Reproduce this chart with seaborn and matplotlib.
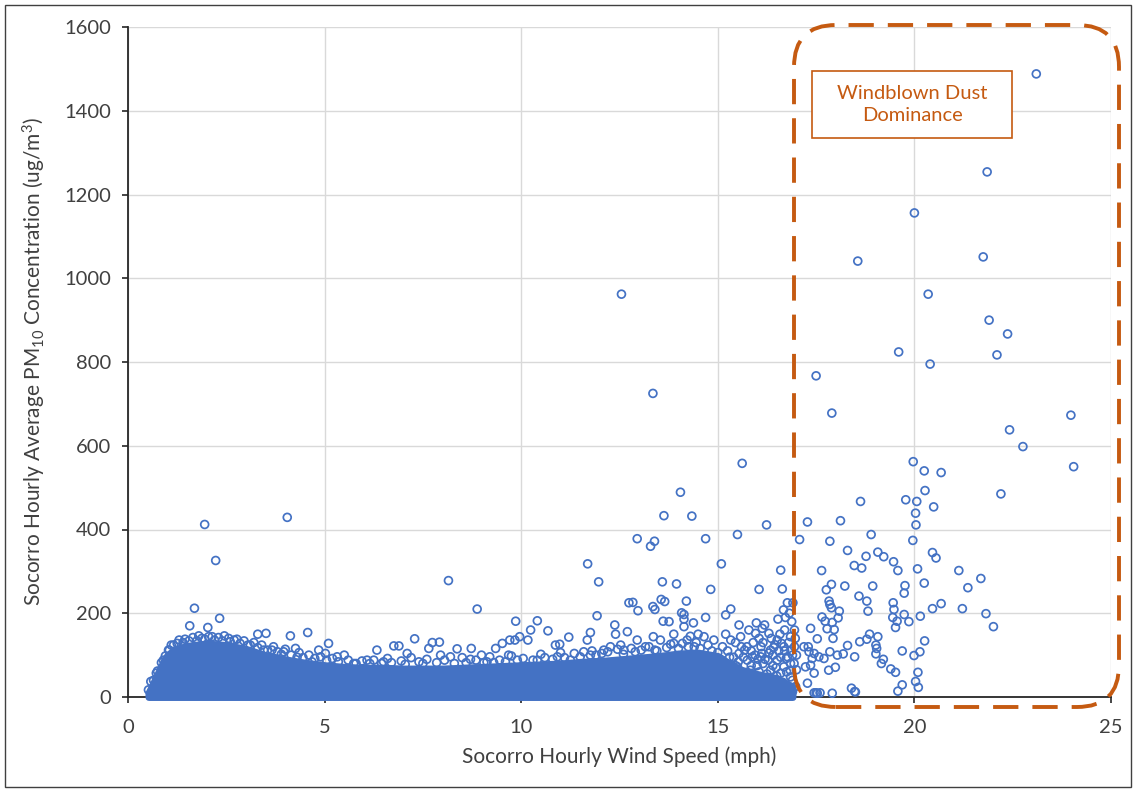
import matplotlib
matplotlib.use("Agg")
import matplotlib.pyplot as plt
import seaborn as sns
import pandas as pd
from matplotlib.patches import FancyBboxPatch, Rectangle
from matplotlib.transforms import IdentityTransform

# ---------------- data ----------------
# Solid core of thousands of overlapping hourly observations: upper envelope
band_speed = [0.52, 0.6, 0.7, 0.8, 0.9, 1.0, 1.2, 1.5, 2.0, 2.5, 3.0, 3.5, 4.0, 4.5,
              5.0, 5.5, 6.0, 6.5, 7.0, 7.5, 8.0, 8.5, 9.0, 9.5, 10.0, 10.5, 11.0,
              11.5, 12.0, 12.5, 13.0, 13.5, 14.0, 14.5, 15.0, 15.3, 15.6, 16.0, 16.5,
              16.9]
band_top = [10, 25, 45, 65, 85, 100, 115, 122, 128, 124, 115, 100, 90, 82,
            76, 72, 70, 70, 68, 68, 68, 70, 72, 74, 76, 78, 80,
            84, 86, 90, 94, 98, 104, 106, 98, 80, 65, 55, 45, 25]

# Rings on the fuzzy top fringe of the core
edge_speed = [0.65, 0.75, 0.85, 0.95, 1.05, 1.1, 1.25, 1.3, 1.4, 1.45, 1.55, 1.65, 1.75,
              1.8, 1.95, 2.05, 2.2, 2.3, 2.4, 2.45, 2.6, 2.7, 2.85, 2.95, 3.05, 3.2,
              3.3, 3.4, 3.55, 3.7, 3.8, 3.9, 4.0, 4.15, 4.35, 4.45, 4.6, 4.75, 4.9,
              5.05, 5.2, 5.35, 5.6, 5.8, 5.95, 6.15, 6.25, 6.45, 6.6, 6.7, 6.95, 7.05,
              7.2, 7.5, 7.6, 7.85, 8.05, 8.3, 8.5, 8.6, 8.85, 9.05, 9.2, 9.45, 9.6,
              9.75, 10.05, 10.3, 10.5, 10.6, 10.8, 11.0, 11.1, 11.35, 11.5, 11.8, 11.9,
              12.05, 12.2, 12.45, 12.6, 12.8, 12.9, 13.05, 13.25, 13.45, 13.7, 13.8,
              14.0, 14.1, 14.25, 14.45, 14.55, 14.75, 14.85, 15.0, 15.1, 15.25, 15.4,
              15.55]
edge_pm10 = [40, 62, 82, 98, 112, 124, 128, 136, 130, 138, 134, 142, 134,
             146, 138, 144, 136, 142, 134, 146, 132, 136, 128, 134, 124, 130,
             118, 124, 112, 120, 108, 102, 114, 100, 106, 94, 100, 92, 96,
             88, 92, 84, 88, 80, 86, 80, 88, 80, 92, 82, 86, 78,
             94, 80, 90, 82, 88, 80, 94, 82, 88, 82, 96, 88, 84,
             98, 92, 88, 102, 94, 90, 106, 94, 104, 96, 110, 100,
             104, 108, 114, 102, 116, 108, 112, 120, 110, 118, 126,
             116, 128, 120, 130, 116, 124, 110, 106, 88, 78, 95,
             60]

# Individual hours standing out of the core (0.5 - 15 mph)
low_speed = [0.52, 0.58, 0.72, 0.9, 1.03, 1.16, 1.57, 1.69, 1.95, 2.03, 2.23, 2.33, 1.88,
             2.14, 2.56, 2.77, 3.11, 3.3, 3.51, 3.45, 3.66, 3.96, 4.05, 4.13, 4.26, 4.3,
             4.57, 4.68, 4.85, 5.02, 5.1, 5.32, 5.5, 5.74, 6.08, 6.33, 6.5, 6.76, 6.89,
             7.1, 7.29, 7.4, 7.65, 7.74, 7.92, 7.95, 8.15, 8.2, 8.37, 8.71, 8.73, 8.88,
             8.99, 9.13, 9.3, 9.35, 9.52, 9.68, 9.71, 9.84, 9.86, 9.9, 9.96, 10.17,
             10.24, 10.41, 10.41, 10.68, 10.87, 10.92, 10.98, 11.21, 11.25, 11.59,
             11.68, 11.69, 11.76, 11.76, 11.93, 11.97, 12.1, 12.27, 12.38, 12.4, 12.53,
             12.55, 12.61, 12.7, 12.74, 12.84, 12.95, 12.95, 12.97, 13.16, 13.29,
             13.35, 13.35, 13.36, 13.39, 13.4, 13.4, 13.54, 13.56, 13.59, 13.61, 13.63,
             13.65, 13.76, 13.88, 13.88, 13.95, 14.05, 14.08, 14.14, 14.14, 14.14,
             14.2, 14.22, 14.34, 14.38, 14.3, 14.4, 14.5, 14.65, 14.69, 14.69, 14.82,
             14.9]
low_pm10 = [17, 37, 57, 88, 112, 124, 170, 212, 412, 166, 326, 188, 140,
            144, 140, 138, 124, 150, 152, 112, 112, 108, 429, 146, 116, 95,
            154, 84, 112, 104, 128, 96, 100, 80, 88, 112, 84, 122, 122,
            104, 139, 84, 116, 130, 131, 100, 278, 96, 115, 90, 116, 210,
            100, 84, 82, 116, 128, 100, 136, 136, 181, 88, 144, 136,
            160, 182, 88, 158, 124, 96, 126, 143, 88, 108,
            136, 318, 154, 100, 194, 275, 112, 120, 172, 150, 124,
            962, 112, 156, 225, 226, 378, 136, 206, 120, 360,
            725, 216, 144, 372, 209, 112, 136, 233, 275, 181, 433,
            228, 180, 150, 128, 270, 489, 201, 197, 186, 168,
            229, 136, 432, 177, 145, 120, 150, 144, 378, 190, 257,
            136]

# Hours at 15 - 17 mph
gust_speed = [15.07, 15.09, 15.16, 15.2, 15.33, 15.33, 15.33, 15.41, 15.5, 15.5, 15.54,
              15.54, 15.58, 15.62, 15.66, 15.75, 15.79, 15.83, 15.92, 15.96, 15.98,
              16.05, 16.09, 16.09, 16.13, 16.19, 16.24, 16.26, 16.3, 16.34, 16.34,
              16.43, 16.51, 16.51, 16.53, 16.6, 16.6, 16.64, 16.67, 16.68, 16.68,
              16.77, 16.77, 16.77, 16.85, 16.85, 16.91, 16.94, 16.98, 15.2, 15.25,
              15.45, 15.6, 15.7, 15.85, 15.9, 16.0, 16.15, 16.2, 16.4, 16.45, 16.55,
              16.7, 16.8, 16.9, 16.95, 16.72, 15.15, 15.25, 15.35, 15.45, 15.55, 15.6,
              15.65, 15.7, 15.8, 15.85, 15.9, 15.95, 16.0, 16.05, 16.1, 16.15, 16.2,
              16.25, 16.3, 16.35, 16.4, 16.45, 16.5, 16.55, 16.6, 16.65, 16.7, 16.75,
              16.8, 16.85, 16.9, 16.95, 17.0, 17.0, 16.88, 16.82, 16.58, 16.36, 16.05,
              15.74, 15.45, 15.2, 15.12, 15.3, 15.68, 15.88, 16.12, 16.28, 16.48,
              16.62, 16.74, 16.86, 16.97, 15.52, 16.02, 16.42, 16.84]
gust_pm10 = [88, 318, 41, 196, 210, 136, 25, 57, 388, 72, 172,
             104, 144, 558, 13, 88, 160, 64, 48, 152, 177,
             257, 96, 25, 164, 172, 411, 41, 152, 112, 64,
             13, 136, 88, 186, 303, 57, 258, 208, 120, 72,
             225, 96, 17, 144, 48, 225, 80, 25, 60, 110,
             30, 120, 40, 110, 130, 75, 130, 90, 100, 40, 110,
             160, 130, 100, 160, 190, 15, 35, 50, 75, 20, 60,
             95, 25, 50, 75, 15, 100, 35, 60, 120, 80, 20,
             55, 105, 30, 75, 125, 50, 20, 95, 35, 110, 60,
             10, 80, 40, 120, 65, 100, 180, 200, 150, 140, 140,
             120, 130, 150, 120, 95, 112, 96, 104, 88, 70,
             128, 92, 110, 140, 84, 90, 118, 64]

# Windblown-dust hours (> 17 mph)
dust_speed = [16.9, 17.08, 17.19, 17.23, 17.28, 17.28, 17.3, 17.32, 17.36, 17.36, 17.4,
              17.45, 17.45, 17.45, 17.5, 17.5, 17.53, 17.53, 17.57, 17.6, 17.64, 17.65,
              17.7, 17.73, 17.76, 17.78, 17.82, 17.83, 17.85, 17.85, 17.85, 17.89,
              17.89, 17.9, 17.91, 17.91, 17.93, 17.96, 17.99, 18.04, 18.06, 18.09,
              18.12, 18.19, 18.23, 18.3, 18.3, 18.4, 18.47, 18.48, 18.48, 18.5, 18.56,
              18.59, 18.61, 18.63, 18.66, 18.77, 18.79, 18.79, 18.82, 18.86, 18.9,
              18.94, 19.02, 19.02, 19.04, 19.07, 19.07, 19.16, 19.21, 19.22, 19.4,
              19.45, 19.46, 19.47, 19.48, 19.52, 19.52, 19.56, 19.58, 19.58, 19.6,
              19.69, 19.69, 19.74, 19.74, 19.76, 19.78, 19.86, 19.96, 19.97, 19.99,
              20.0, 20.03, 20.03, 20.04, 20.06, 20.08, 20.09, 20.1, 20.14, 20.15,
              20.25, 20.25, 20.26, 20.27, 20.35, 20.4, 20.46, 20.46, 20.49, 20.55,
              20.68, 20.68, 21.13, 21.22, 21.36, 21.69, 21.75, 21.82, 21.85, 21.9,
              22.01, 22.1, 22.2, 22.37, 22.42, 22.76, 23.1, 23.98, 24.05]
dust_pm10 = [13, 376, 120, 72, 418, 33, 120, 108, 164, 76, 92,
             104, 57, 10, 767, 10, 139, 9, 96, 10, 302, 191,
             92, 181, 256, 163, 64, 229, 372, 221, 108, 269,
             213, 678, 178, 9, 140, 161, 71, 100, 189, 205,
             421, 103, 265, 350, 123, 21, 314, 96, 13, 12, 1041,
             241, 132, 467, 308, 336, 229, 138, 205, 150, 388,
             265, 124, 103, 116, 346, 144, 80, 90, 335, 67,
             190, 225, 323, 209, 166, 59, 181, 302, 14, 824,
             110, 29, 248, 197, 266, 471, 180, 374, 562, 99,
             1156, 439, 37, 411, 467, 306, 59, 23, 108, 193,
             540, 272, 134, 493, 962, 795, 345, 211, 454, 332,
             536, 223, 302, 211, 261, 283, 1051, 199, 1254, 900,
             168, 817, 485, 867, 638, 598, 1488, 673, 550]

x_ticks = [0, 5, 10, 15, 20, 25]
y_ticks = [0, 200, 400, 600, 800, 1000, 1200, 1400, 1600]

x_label = "Socorro Hourly Wind Speed (mph)"
y_label = "Socorro Hourly Average PM$_{10}$ Concentration (ug/m$^{3}$)"
box_label = "Windblown Dust\nDominance"

# ---------------- style ----------------
BLUE = "#4472C4"
ORANGE = "#C55A11"
TXT = "#404040"

sns.set_theme(style="whitegrid")
plt.rcParams["font.family"] = ["Lato", "DejaVu Sans"]
plt.rcParams["mathtext.fontset"] = "custom"
plt.rcParams["mathtext.rm"] = "Lato"
plt.rcParams["mathtext.it"] = "Lato:italic"
plt.rcParams["mathtext.bf"] = "Lato:bold"
plt.rcParams["mathtext.default"] = "regular"

W, H = 1135, 789
fig = plt.figure(figsize=(W / 100, H / 100), dpi=100)
fig.patch.set_facecolor("white")
ax = fig.add_axes([128 / W, 92 / H, 983 / W, 670 / H])
ax.set_facecolor("white")

# dense core
ax.fill_between(band_speed, band_top, color=BLUE, edgecolor=BLUE, linewidth=5,
                joinstyle="round", zorder=3, clip_on=False)

df = pd.DataFrame({
    "speed": edge_speed + low_speed + gust_speed + dust_speed,
    "pm10": edge_pm10 + low_pm10 + gust_pm10 + dust_pm10,
})
sns.scatterplot(data=df, x="speed", y="pm10", ax=ax, marker="o", s=32,
                color=BLUE, facecolor="none", edgecolor=BLUE, linewidth=1.25,
                zorder=4, clip_on=False)

ax.set_xlim(0, 25)
ax.set_ylim(0, 1600)
ax.set_xticks(x_ticks)
ax.set_yticks(y_ticks)
ax.grid(True, color="#D9D9D9", linewidth=1.0)
ax.set_axisbelow(True)
for s in ["top", "right"]:
    ax.spines[s].set_visible(False)
for s in ["left", "bottom"]:
    ax.spines[s].set_color("#262626")
    ax.spines[s].set_linewidth(1.3)
ax.tick_params(axis="both", which="major", bottom=True, left=True, direction="out",
               length=4, width=1.2, color="#262626", labelsize=14.5, labelcolor=TXT)
ax.tick_params(axis="x", pad=12)
ax.tick_params(axis="y", pad=8)

ax.set_xlabel(x_label, fontsize=15, color=TXT, labelpad=7)
ax.set_ylabel(y_label, fontsize=15, color=TXT, labelpad=12)

# dashed rounded frame around the windblown dust region (pixel coords)
frame = FancyBboxPatch((794, H - 707), 325, 682,
                       boxstyle="round,pad=0,rounding_size=42",
                       transform=IdentityTransform(), fill=False,
                       edgecolor=ORANGE, linewidth=2.8,
                       linestyle=(0, (6.5, 3.6)), zorder=6, clip_on=False)
fig.add_artist(frame)

# text box
tb = Rectangle((812, H - 138), 200, 67, transform=IdentityTransform(),
               facecolor="white", edgecolor=ORANGE, linewidth=1.2, zorder=6)
fig.add_artist(tb)
fig.text(912 / W, (H - 104.5) / H, box_label, ha="center", va="center",
         color=ORANGE, fontsize=14.5, linespacing=1.4, zorder=7)

# outer image border
fig.add_artist(Rectangle((5, 2), 1126, 782, transform=IdentityTransform(),
                         fill=False, edgecolor="#404040", linewidth=1.0))

fig.savefig("out.png", dpi=100, facecolor="white")
